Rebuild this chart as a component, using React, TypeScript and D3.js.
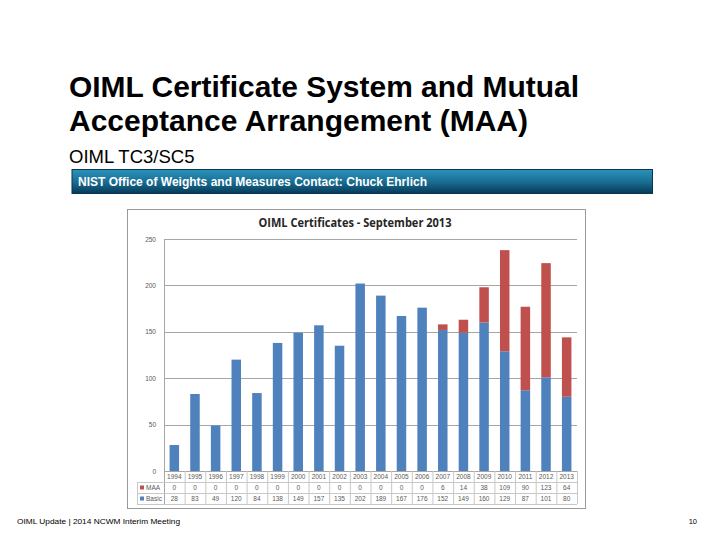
import React from "react";
import * as d3 from "d3";

const years = ["1994","1995","1996","1997","1998","1999","2000","2001","2002","2003","2004","2005","2006","2007","2008","2009","2010","2011","2012","2013"];
const maa = [0,0,0,0,0,0,0,0,0,0,0,0,0,6,14,38,109,90,123,64];
const basic = [28,83,49,120,84,138,149,157,135,202,189,167,176,152,149,160,129,87,101,80];
const yTicks = [0,50,100,150,200,250];
const seriesNames = ["MAA","Basic"];
const colors = { MAA: "#c0504d", Basic: "#4f81bd" };

export default function App() {
  const W = 720, H = 540;
  const plotL = 164, plotR = 577, plotT = 239, plotB = 471;
  const x = d3.scaleBand<string>().domain(years).range([plotL, plotR]).paddingInner(0.54).paddingOuter(0.27);
  const cols = d3.scaleBand<string>().domain(years).range([plotL, plotR]);
  const y = d3.scaleLinear().domain([0, 250]).range([plotB, plotT]);
  const rowH = 11;
  const tableL = 137;
  const rowTops = [plotB, plotB + rowH, plotB + 2 * rowH];
  const tableB = plotB + 3 * rowH;
  const font = "'Liberation Sans', Arial, sans-serif";
  const grid = "#a6a6a6";
  const tableLine = "#c8c8c8";
  const txt = "#595959";
  return (
    <div style={{ position: "absolute", left: 0, top: 0 }}>
      <svg width={W} height={H} style={{ display: "block", background: "#fff" }}>
        <defs>
          <linearGradient id="banner" x1="0" y1="0" x2="0" y2="1">
            <stop offset="0" stopColor="#2b93bb" />
            <stop offset="0.5" stopColor="#1a6f95" />
            <stop offset="1" stopColor="#073a58" />
          </linearGradient>
        </defs>
        <text x={69} y={97} fontFamily={font} fontWeight="bold" fontSize={30} fill="#000" textLength={510} lengthAdjust="spacingAndGlyphs">OIML Certificate System and Mutual</text>
        <text x={69} y={131} fontFamily={font} fontWeight="bold" fontSize={30} fill="#000">Acceptance Arrangement (MAA)</text>
        <text x={69} y={163} fontFamily={font} fontSize={18.5} fill="#000">OIML TC3/SC5</text>
        <rect x={72} y={169.5} width={580.5} height={24} fill="url(#banner)" stroke="#0a3550" strokeWidth={1} />
        <text x={78} y={186} fontFamily={font} fontWeight="bold" fontSize={12} fill="#fff" textLength={349} lengthAdjust="spacingAndGlyphs">NIST Office of Weights and Measures Contact: Chuck Ehrlich</text>

        <rect x={127.5} y={209.5} width={458} height={299} fill="#fff" stroke="#9a9a9a" strokeWidth={1} />
        <text x={355} y={227} textAnchor="middle" fontFamily="'Open Sans', 'Liberation Sans', sans-serif" fontWeight="bold" fontSize={12.5} fill="#262626" textLength={193} lengthAdjust="spacingAndGlyphs">OIML Certificates - September 2013</text>

        {yTicks.map(t => (
          <g key={t}>
            {t > 0 && <line x1={plotL} x2={plotR} y1={Math.round(y(t)) + 0.5} y2={Math.round(y(t)) + 0.5} stroke={grid} strokeWidth={1} />}
            <text x={156} y={y(t) + 2.5} textAnchor="end" fontFamily={font} fontSize={6.5} fill={txt}>{t}</text>
          </g>
        ))}
        <line x1={plotL + 0.5} x2={plotL + 0.5} y1={plotT} y2={tableB} stroke={grid} strokeWidth={1} />

        {years.map((yr, i) => (
          <g key={yr}>
            <rect x={x(yr)} y={y(basic[i])} width={x.bandwidth()} height={y(0) - y(basic[i])} fill={colors.Basic} />
            {maa[i] > 0 && <rect x={x(yr)} y={y(basic[i] + maa[i])} width={x.bandwidth()} height={y(basic[i]) - y(basic[i] + maa[i])} fill={colors.MAA} />}
          </g>
        ))}

        {rowTops.map((rt, r) => (
          <line key={"h" + r} x1={r === 0 ? plotL : tableL} x2={plotR} y1={rt + 0.5} y2={rt + 0.5} stroke={r === 0 ? grid : tableLine} strokeWidth={1} />
        ))}
        <line x1={tableL} x2={plotR} y1={tableB + 0.5} y2={tableB + 0.5} stroke={tableLine} strokeWidth={1} />
        <line x1={tableL + 0.5} x2={tableL + 0.5} y1={plotB + rowH} y2={tableB} stroke={tableLine} strokeWidth={1} />
        {years.map(yr => (
          <line key={"v" + yr} x1={(cols(yr) as number) + cols.bandwidth() + 0.5} x2={(cols(yr) as number) + cols.bandwidth() + 0.5} y1={plotB} y2={tableB} stroke={tableLine} strokeWidth={1} />
        ))}
        {years.map((yr, i) => {
          const cx = (cols(yr) as number) + cols.bandwidth() / 2;
          return (
            <g key={"t" + yr} fontFamily={font} fontSize={6.5} fill={txt} textAnchor="middle">
              <text x={cx} y={rowTops[0] + 8}>{yr}</text>
              <text x={cx} y={rowTops[1] + 8}>{maa[i]}</text>
              <text x={cx} y={rowTops[2] + 8}>{basic[i]}</text>
            </g>
          );
        })}
        {seriesNames.map((s, k) => (
          <g key={s}>
            <rect x={140} y={rowTops[k + 1] + 3.5} width={4} height={4} fill={colors[s as "MAA" | "Basic"]} />
            <text x={146} y={rowTops[k + 1] + 8} fontFamily={font} fontSize={6.5} fill={txt}>{s}</text>
          </g>
        ))}

        <text x={17} y={524} fontFamily={font} fontSize={7.5} fill="#000" textLength={163} lengthAdjust="spacingAndGlyphs">OIML Update | 2014 NCWM Interim Meeting</text>
        <text x={697} y={524} textAnchor="end" fontFamily={font} fontSize={7.5} fill="#000">10</text>
      </svg>
    </div>
  );
}
